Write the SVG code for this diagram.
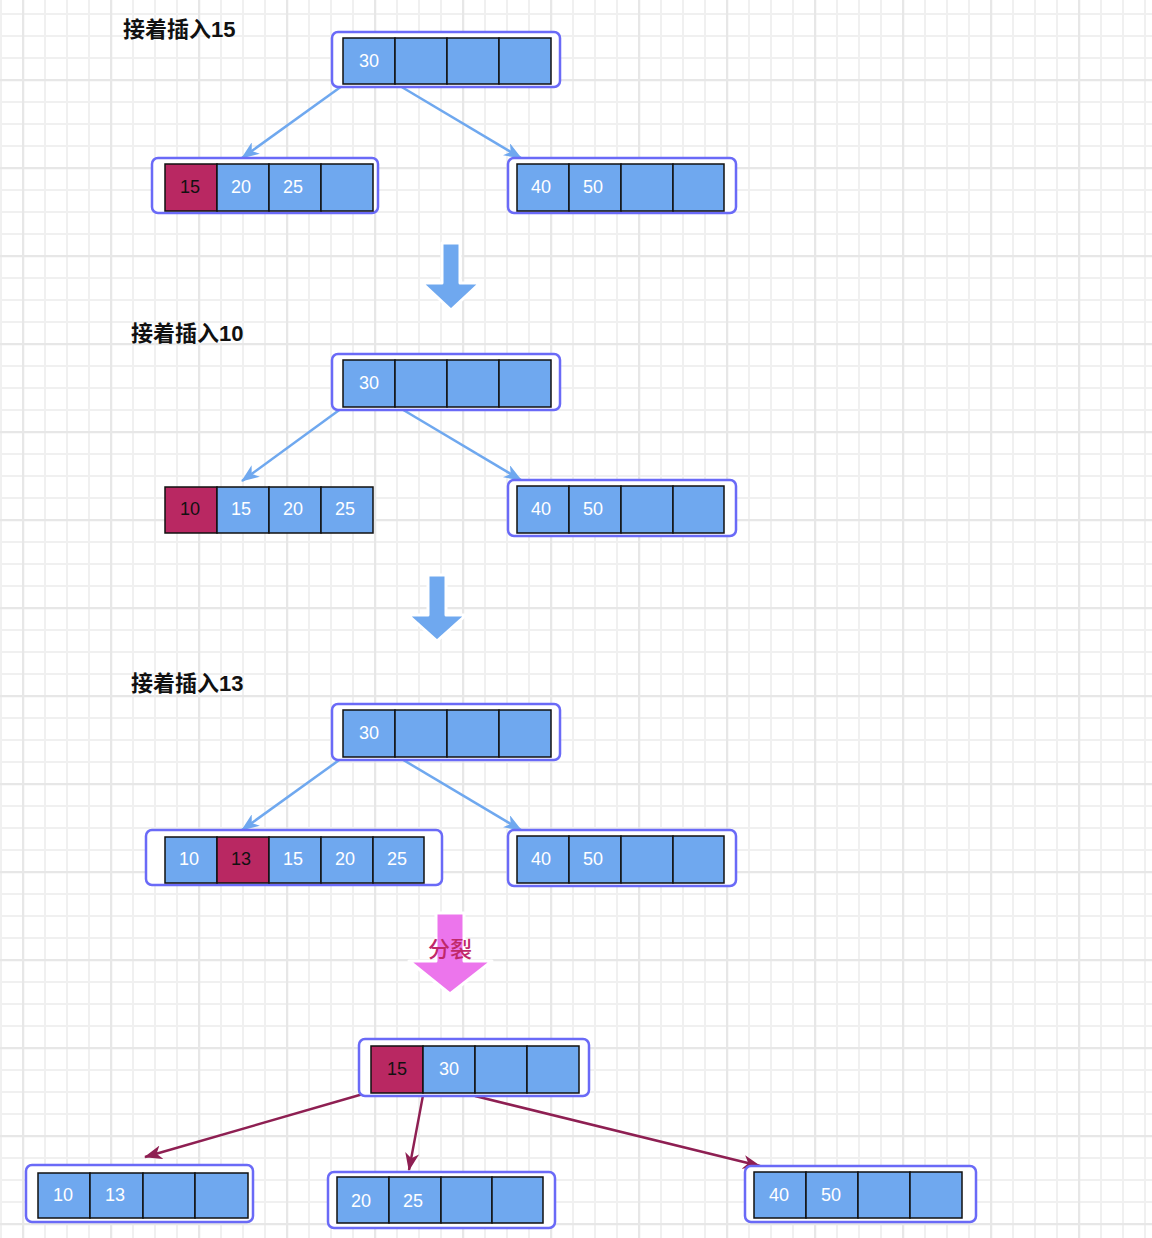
<svg xmlns="http://www.w3.org/2000/svg" width="1152" height="1238" viewBox="0 0 1152 1238">
<defs>
<pattern id="gmin" patternUnits="userSpaceOnUse" x="0" y="13" width="22" height="22">
<path d="M0,1 H22 M1,0 V22" fill="none" stroke="#f0f0f0" stroke-width="2"/>
</pattern>
<pattern id="gmaj" patternUnits="userSpaceOnUse" x="22" y="79" width="88" height="88">
<path d="M0,1 H88 M1,0 V88" fill="none" stroke="#e7e7e7" stroke-width="2.5"/>
</pattern>
<marker id="ab" markerUnits="userSpaceOnUse" viewBox="0 0 18 14" markerWidth="18" markerHeight="14" refX="17" refY="7" orient="auto">
<path d="M0,0 L18,7 L0,14 L5,7 Z" fill="#6fa8ef"/>
</marker>
<marker id="ar" markerUnits="userSpaceOnUse" viewBox="0 0 18 14" markerWidth="18" markerHeight="14" refX="17" refY="7" orient="auto">
<path d="M0,0 L18,7 L0,14 L5,7 Z" fill="#8e1f52"/>
</marker>
</defs>
<style>
.outer{fill:#fff;stroke:#6a6af7;stroke-width:2.5}
.c{fill:#6fa8ef;stroke:#111;stroke-width:1.5}
.r{fill:#b92862;stroke:#111;stroke-width:1.5}
.t{font-family:"Liberation Sans",Arial,sans-serif;font-size:18px;fill:#fff;text-anchor:middle}
.tr{font-family:"Liberation Sans",Arial,sans-serif;font-size:18px;fill:#111;text-anchor:middle}
.title{font-family:"Liberation Sans","Noto Sans CJK SC",sans-serif;font-size:22px;font-weight:bold;fill:#111}
.eb{fill:none;stroke:#6fa8ef;stroke-width:2.5}
.er{fill:none;stroke:#8e1f52;stroke-width:2.5}
</style>
<rect width="1152" height="1238" fill="#fff"/>
<rect width="1152" height="1238" fill="url(#gmin)"/>
<rect width="1152" height="1238" fill="url(#gmaj)"/>

<text class="title" x="123" y="37">接着插入15</text>
<text class="title" x="131" y="341">接着插入10</text>
<text class="title" x="131" y="691">接着插入13</text>

<g id="connectors">
<line class="eb" x1="342" y1="86" x2="242" y2="158" marker-end="url(#ab)"/>
<line class="eb" x1="400" y1="86" x2="521" y2="158" marker-end="url(#ab)"/>
<line class="eb" x1="342" y1="408" x2="242" y2="481" marker-end="url(#ab)"/>
<line class="eb" x1="400" y1="408" x2="521" y2="480" marker-end="url(#ab)"/>
<line class="eb" x1="342" y1="758" x2="242" y2="830" marker-end="url(#ab)"/>
<line class="eb" x1="400" y1="758" x2="521" y2="830" marker-end="url(#ab)"/>
<line class="er" x1="370" y1="1092" x2="145" y2="1157" marker-end="url(#ar)"/>
<line class="er" x1="424" y1="1090" x2="409" y2="1170" marker-end="url(#ar)"/>
<line class="er" x1="475" y1="1096" x2="760" y2="1166" marker-end="url(#ar)"/>
</g>

<g id="bigarrow1"><path d="M442,243 H460 V283 H480 L451,310 L422,283 H442 Z" fill="#6fa8ef" stroke="#fff" stroke-width="3" stroke-linejoin="round"/></g>
<g id="bigarrow2"><path d="M428,575 H446 V615 H466 L437,641 L408,615 H428 Z" fill="#6fa8ef" stroke="#fff" stroke-width="3" stroke-linejoin="round"/></g>
<g id="splitarrow"><path d="M436,913 H464 V961 H492 L450,994 L409,961 H436 Z" fill="#ec75ec" stroke="#fff" stroke-width="3" stroke-linejoin="round"/>
<text x="450" y="957" text-anchor="middle" font-family="'Noto Sans CJK SC',sans-serif" font-size="22" font-weight="500" fill="#c0286a">分裂</text></g>

<g id="n1">
<rect class="outer" x="332" y="32" width="228" height="55" rx="6"/>
<rect class="c" x="343" y="38" width="52" height="46"/><rect class="c" x="395" y="38" width="52" height="46"/><rect class="c" x="447" y="38" width="52" height="46"/><rect class="c" x="499" y="38" width="52" height="46"/>
<text class="t" x="369" y="67">30</text>
</g>
<g id="n1L">
<rect class="outer" x="152" y="158" width="226" height="55" rx="6"/>
<rect class="r" x="165" y="164" width="52" height="47"/><rect class="c" x="217" y="164" width="52" height="47"/><rect class="c" x="269" y="164" width="52" height="47"/><rect class="c" x="321" y="164" width="52" height="47"/>
<text class="tr" x="190" y="193">15</text><text class="t" x="241" y="193">20</text><text class="t" x="293" y="193">25</text>
</g>
<g id="n1R">
<rect class="outer" x="508" y="158" width="228" height="55" rx="6"/>
<rect class="c" x="517" y="164" width="52" height="47"/><rect class="c" x="569" y="164" width="52" height="47"/><rect class="c" x="621" y="164" width="52" height="47"/><rect class="c" x="673" y="164" width="51" height="47"/>
<text class="t" x="541" y="193">40</text><text class="t" x="593" y="193">50</text>
</g>

<g id="n2">
<rect class="outer" x="332" y="354" width="228" height="56" rx="6"/>
<rect class="c" x="343" y="360" width="52" height="47"/><rect class="c" x="395" y="360" width="52" height="47"/><rect class="c" x="447" y="360" width="52" height="47"/><rect class="c" x="499" y="360" width="52" height="47"/>
<text class="t" x="369" y="389">30</text>
</g>
<g id="n2L">
<rect class="r" x="165" y="487" width="52" height="46"/><rect class="c" x="217" y="487" width="52" height="46"/><rect class="c" x="269" y="487" width="52" height="46"/><rect class="c" x="321" y="487" width="52" height="46"/>
<text class="tr" x="190" y="515">10</text><text class="t" x="241" y="515">15</text><text class="t" x="293" y="515">20</text><text class="t" x="345" y="515">25</text>
</g>
<g id="n2R">
<rect class="outer" x="508" y="480" width="228" height="56" rx="6"/>
<rect class="c" x="517" y="486" width="52" height="47"/><rect class="c" x="569" y="486" width="52" height="47"/><rect class="c" x="621" y="486" width="52" height="47"/><rect class="c" x="673" y="486" width="51" height="47"/>
<text class="t" x="541" y="515">40</text><text class="t" x="593" y="515">50</text>
</g>

<g id="n3">
<rect class="outer" x="332" y="704" width="228" height="56" rx="6"/>
<rect class="c" x="343" y="710" width="52" height="47"/><rect class="c" x="395" y="710" width="52" height="47"/><rect class="c" x="447" y="710" width="52" height="47"/><rect class="c" x="499" y="710" width="52" height="47"/>
<text class="t" x="369" y="739">30</text>
</g>
<g id="n3L">
<rect class="outer" x="146" y="830" width="296" height="55" rx="6"/>
<rect class="c" x="165" y="837" width="52" height="46"/><rect class="r" x="217" y="837" width="52" height="46"/><rect class="c" x="269" y="837" width="52" height="46"/><rect class="c" x="321" y="837" width="52" height="46"/><rect class="c" x="373" y="837" width="51" height="46"/>
<text class="t" x="189" y="865">10</text><text class="tr" x="241" y="865">13</text><text class="t" x="293" y="865">15</text><text class="t" x="345" y="865">20</text><text class="t" x="397" y="865">25</text>
</g>
<g id="n3R">
<rect class="outer" x="508" y="830" width="228" height="56" rx="6"/>
<rect class="c" x="517" y="836" width="52" height="47"/><rect class="c" x="569" y="836" width="52" height="47"/><rect class="c" x="621" y="836" width="52" height="47"/><rect class="c" x="673" y="836" width="51" height="47"/>
<text class="t" x="541" y="865">40</text><text class="t" x="593" y="865">50</text>
</g>

<g id="n4">
<rect class="outer" x="359" y="1039" width="230" height="57" rx="6"/>
<rect class="r" x="371" y="1046" width="52" height="47"/><rect class="c" x="423" y="1046" width="52" height="47"/><rect class="c" x="475" y="1046" width="52" height="47"/><rect class="c" x="527" y="1046" width="52" height="47"/>
<text class="tr" x="397" y="1075">15</text><text class="t" x="449" y="1075">30</text>
</g>
<g id="n4a">
<rect class="outer" x="26" y="1165" width="227" height="57" rx="6"/>
<rect class="c" x="38" y="1173" width="52" height="45"/><rect class="c" x="90" y="1173" width="53" height="45"/><rect class="c" x="143" y="1173" width="52" height="45"/><rect class="c" x="195" y="1173" width="53" height="45"/>
<text class="t" x="63" y="1201">10</text><text class="t" x="115" y="1201">13</text>
</g>
<g id="n4b">
<rect class="outer" x="328" y="1172" width="227" height="56" rx="6"/>
<rect class="c" x="337" y="1177" width="52" height="46"/><rect class="c" x="389" y="1177" width="52" height="46"/><rect class="c" x="441" y="1177" width="51" height="46"/><rect class="c" x="492" y="1177" width="51" height="46"/>
<text class="t" x="361" y="1207">20</text><text class="t" x="413" y="1207">25</text>
</g>
<g id="n4c">
<rect class="outer" x="745" y="1166" width="231" height="56" rx="6"/>
<rect class="c" x="754" y="1172" width="52" height="46"/><rect class="c" x="806" y="1172" width="52" height="46"/><rect class="c" x="858" y="1172" width="52" height="46"/><rect class="c" x="910" y="1172" width="52" height="46"/>
<text class="t" x="779" y="1201">40</text><text class="t" x="831" y="1201">50</text>
</g>
</svg>
